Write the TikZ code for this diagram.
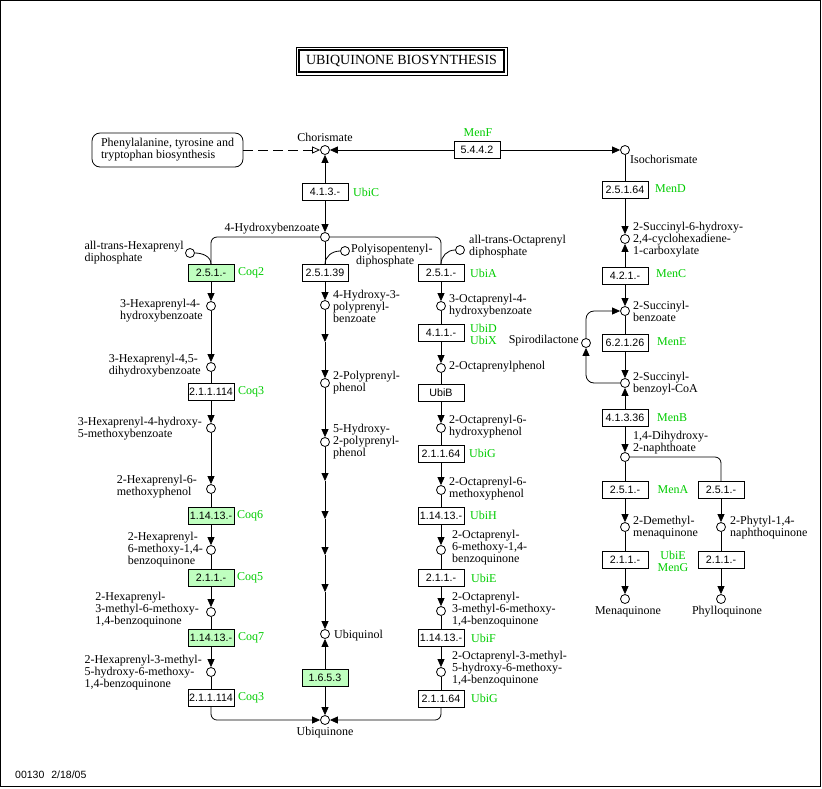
\documentclass[tikz,border=0pt]{standalone}
\usepackage{fontspec}
\setmainfont{Liberation Serif}
\setsansfont{Liberation Sans}
\usetikzlibrary{arrows.meta}
\definecolor{kgreen}{RGB}{191,255,191}
\definecolor{ggreen}{RGB}{0,204,0}
\begin{document}
\begin{tikzpicture}[x=1pt,y=-1pt,
 met/.style={circle,draw,fill=white,inner sep=0pt,minimum size=9pt,line width=0.8pt},
 ecbox/.style={draw,fill=white,font=\sffamily\fontsize{10.7}{12}\selectfont,minimum width=46pt,minimum height=17pt,inner sep=0pt,line width=0.8pt},
 ecg/.style={ecbox,fill=kgreen},
 gene/.style={text=ggreen,font=\fontsize{12}{12}\selectfont,inner sep=0pt,align=left},
 lbl/.style={font=\fontsize{12}{12}\selectfont,inner sep=0pt,align=left},
 rx/.style={line width=0.8pt},
 arr/.style={rx,-{Triangle[length=8pt,width=7pt]}},
]
\useasboundingbox (0,0) rectangle (822,788);
\draw[line width=1pt] (0.5,0.5) rectangle (820.5,786.5);
% title
\draw[line width=1pt] (296,47) rectangle (507,75);
\draw[line width=2pt] (299,50) rectangle (504,72);
\node[font=\fontsize{14}{14}\selectfont] (title) at (401.5,61) {UBIQUINONE BIOSYNTHESIS};
% top
\node[met] (chor) at (325,150) {};
\node[lbl] (chorL) at (325,137) {Chorismate};
\node[draw,rx,rounded corners=8pt,lbl,inner xsep=9pt,minimum height=34pt] (phe) at (167.5,150) {Phenylalanine, tyrosine and\\tryptophan biosynthesis};
\node[met] (iso) at (625,150) {};
\node[lbl,anchor=west] (isoL) at (630,159) {Isochorismate};
\node[ecbox] (e5442) at (477,150) {5.4.4.2};
\node[gene] (menF) at (478,133) {MenF};
\draw[rx,dash pattern=on 10pt off 5pt,-{Triangle[open,length=8pt,width=7pt]}] (phe.east) -- (chor.west);
\draw[arr] (e5442) -- (chor);
\draw[arr] (e5442) -- (iso);
\node[ecbox] (e413) at (325,192) {4.1.3.-};
\node[gene,anchor=west] (ubiC) at (353,192) {UbiC};
\node[met] (hb) at (325,237) {};
\node[lbl,anchor=east] (hbL) at (320,229) {4-Hydroxybenzoate};
\draw[arr] (e413) -- (chor);
\draw[arr] (e413) -- (hb);
% left column
\node[met] (hexpp) at (190,253) {};
\node[lbl,anchor=east] (hexppL) at (184,253) {all-trans-Hexaprenyl\\diphosphate};
\node[ecg] (coq2) at (211,273) {2.5.1.-};
\node[gene,anchor=west] (coq2L) at (238,273) {Coq2};
\draw[rx,rounded corners=6pt] (hb.west) -| (coq2.north);
\draw[rx] (hexpp.east) to[out=0,in=90] (coq2.north);
\node[met] (h1) at (211,306) {};
\node[lbl,anchor=east] (h1L) at (203,311) {3-Hexaprenyl-4-\\hydroxybenzoate};
\draw[arr] (coq2) -- (h1);
\node[met] (h2) at (211,367) {};
\node[lbl,anchor=east] (h2L) at (201,366) {3-Hexaprenyl-4,5-\\dihydroxybenzoate};
\draw[arr] (h1) -- (h2);
\node[ecbox] (coq3a) at (211,392) {2.1.1.114};
\node[gene,anchor=west] (coq3aL) at (238,392) {Coq3};
\draw[rx] (h2) -- (coq3a);
\node[met] (h3) at (211,428) {};
\node[lbl,anchor=east] (h3L) at (202,428.5) {3-Hexaprenyl-4-hydroxy-\\5-methoxybenzoate};
\draw[arr] (coq3a) -- (h3);
\node[met] (h4) at (211,489) {};
\node[lbl,anchor=east] (h4L) at (197,487) {2-Hexaprenyl-6-\\methoxyphenol};
\draw[arr] (h3) -- (h4);
\node[ecg] (coq6) at (211,516) {1.14.13.-};
\node[gene,anchor=west] (coq6L) at (237,516) {Coq6};
\draw[rx] (h4) -- (coq6);
\node[met] (h5) at (211,550) {};
\node[lbl,anchor=east] (h5L) at (203,549.5) {2-Hexaprenyl-\\6-methoxy-1,4-\\benzoquinone};
\draw[arr] (coq6) -- (h5);
\node[ecg] (coq5) at (211,578) {2.1.1.-};
\node[gene,anchor=west] (coq5L) at (237,578) {Coq5};
\draw[rx] (h5) -- (coq5);
\node[met] (h6) at (211,612) {};
\node[lbl,anchor=east] (h6L) at (199,609.5) {2-Hexaprenyl-\\3-methyl-6-methoxy-\\1,4-benzoquinone};
\draw[arr] (coq5) -- (h6);
\node[ecg] (coq7) at (211,638) {1.14.13.-};
\node[gene,anchor=west] (coq7L) at (238,638) {Coq7};
\draw[rx] (h6) -- (coq7);
\node[met] (h7) at (211,672) {};
\node[lbl,anchor=east] (h7L) at (202,673) {2-Hexaprenyl-3-methyl-\\5-hydroxy-6-methoxy-\\1,4-benzoquinone};
\draw[arr] (coq7) -- (h7);
\node[ecbox] (coq3b) at (211,698) {2.1.1.114};
\node[gene,anchor=west] (coq3bL) at (238,698) {Coq3};
\draw[rx] (h7) -- (coq3b);
\node[met] (uq) at (325,720) {};
\node[lbl] (uqL) at (325,733) {Ubiquinone};
\draw[arr,rounded corners=6pt] (coq3b.south) |- (uq.west);
% center column
\node[met] (polypp) at (345,251) {};
\node[lbl,anchor=west] (polyppL) at (351,256) {Polyisopentenyl-\\\hspace*{5pt}diphosphate};
\node[ecbox] (e2539) at (325,273) {2.5.1.39};
\draw[rx] (hb) -- (e2539);
\draw[rx] (polypp.west) to[out=180,in=90] (e2539.north);
\node[met] (c1) at (325,305) {};
\node[lbl,anchor=west] (c1L) at (333,306) {4-Hydroxy-3-\\polyprenyl-\\benzoate};
\draw[arr] (e2539) -- (c1);
\coordinate (m1) at (325,342);
\draw[arr] (c1) -- (m1);
\node[met] (c2) at (325,383) {};
\node[lbl,anchor=west] (c2L) at (333,383) {2-Polyprenyl-\\phenol};
\draw[arr] (m1) -- (c2);
\node[met] (c3) at (325,442) {};
\node[lbl,anchor=west] (c3L) at (333,442) {5-Hydroxy-\\2-polyprenyl-\\phenol};
\draw[arr] (c2) -- (c3);
\coordinate (m2) at (325,481);
\coordinate (m3) at (325,519);
\coordinate (m4) at (325,555);
\coordinate (m5) at (325,592);
\draw[arr] (c3) -- (m2);
\draw[arr] (m2) -- (m3);
\draw[arr] (m3) -- (m4);
\draw[arr] (m4) -- (m5);
\node[met] (uqol) at (325,634) {};
\node[lbl,anchor=west] (uqolL) at (334,636) {Ubiquinol};
\draw[arr] (m5) -- (uqol);
\node[ecg] (e1653) at (325,678) {1.6.5.3};
\draw[arr] (e1653) -- (uqol);
\draw[arr] (e1653) -- (uq);
% right column
\node[met] (octpp) at (460,250) {};
\node[lbl,anchor=west] (octppL) at (469,247) {all-trans-Octaprenyl\\diphosphate};
\node[ecbox] (ubiA) at (441,273) {2.5.1.-};
\node[gene,anchor=west] (ubiAL) at (470,273) {UbiA};
\draw[rx,rounded corners=6pt] (hb.east) -| (ubiA.north);
\draw[rx] (octpp.west) to[out=180,in=90] (ubiA.north);
\node[met] (o1) at (441,306) {};
\node[lbl,anchor=west] (o1L) at (449,305.5) {3-Octaprenyl-4-\\hydroxybenzoate};
\draw[arr] (ubiA) -- (o1);
\node[ecbox] (ubiD) at (441,333) {4.1.1.-};
\node[gene,anchor=west] (ubiDL) at (470,334) {UbiD\\UbiX};
\draw[rx] (o1) -- (ubiD);
\node[met] (o2) at (441,368) {};
\node[lbl,anchor=west] (o2L) at (449,367) {2-Octaprenylphenol};
\draw[arr] (ubiD) -- (o2);
\node[ecbox] (ubiB) at (441,393) {UbiB};
\draw[rx] (o2) -- (ubiB);
\node[met] (o3) at (441,428) {};
\node[lbl,anchor=west] (o3L) at (449,427) {2-Octaprenyl-6-\\hydroxyphenol};
\draw[arr] (ubiB) -- (o3);
\node[ecbox] (ubiG1) at (441,454) {2.1.1.64};
\node[gene,anchor=west] (ubiG1L) at (469,453) {UbiG};
\draw[rx] (o3) -- (ubiG1);
\node[met] (o4) at (441,490) {};
\node[lbl,anchor=west] (o4L) at (449,489) {2-Octaprenyl-6-\\methoxyphenol};
\draw[arr] (ubiG1) -- (o4);
\node[ecbox] (ubiH) at (441,516) {1.14.13.-};
\node[gene,anchor=west] (ubiHL) at (470,515) {UbiH};
\draw[rx] (o4) -- (ubiH);
\node[met] (o5) at (441,550) {};
\node[lbl,anchor=west] (o5L) at (452,548) {2-Octaprenyl-\\6-methoxy-1,4-\\benzoquinone};
\draw[arr] (ubiH) -- (o5);
\node[ecbox] (ubiE) at (441,578) {2.1.1.-};
\node[gene,anchor=west] (ubiEL) at (471,578) {UbiE};
\draw[rx] (o5) -- (ubiE);
\node[met] (o6) at (441,611) {};
\node[lbl,anchor=west] (o6L) at (452,609.5) {2-Octaprenyl-\\3-methyl-6-methoxy-\\1,4-benzoquinone};
\draw[arr] (ubiE) -- (o6);
\node[ecbox] (ubiF) at (441,637.5) {1.14.13.-};
\node[gene,anchor=west] (ubiFL) at (471,638) {UbiF};
\draw[rx] (o6) -- (ubiF);
\node[met] (o7) at (441,672) {};
\node[lbl,anchor=west] (o7L) at (452,669) {2-Octaprenyl-3-methyl-\\5-hydroxy-6-methoxy-\\1,4-benzoquinone};
\draw[arr] (ubiF) -- (o7);
\node[ecbox] (ubiG2) at (441,699) {2.1.1.64};
\node[gene,anchor=west] (ubiG2L) at (471,698) {UbiG};
\draw[rx] (o7) -- (ubiG2);
\draw[arr,rounded corners=6pt] (ubiG2.south) |- (uq.east);
% menaquinone branch
\node[ecbox] (menD) at (625,190) {2.5.1.64};
\node[gene,anchor=west] (menDL) at (655,189) {MenD};
\draw[rx] (iso) -- (menD);
\node[met] (s1) at (625,239) {};
\node[lbl,anchor=west] (s1L) at (633,240) {2-Succinyl-6-hydroxy-\\2,4-cyclohexadiene-\\1-carboxylate};
\draw[arr] (menD) -- (s1);
\node[ecbox] (menC) at (625,276) {4.2.1.-};
\node[gene,anchor=west] (menCL) at (656,274) {MenC};
\draw[arr] (menC) -- (s1);
\node[met] (s2) at (625,311) {};
\node[lbl,anchor=west] (s2L) at (633,311) {2-Succinyl-\\benzoate};
\draw[arr] (menC) -- (s2);
\node[ecbox] (menE) at (625,343) {6.2.1.26};
\node[gene,anchor=west] (menEL) at (657,342) {MenE};
\draw[rx] (s2) -- (menE);
\node[met] (s3) at (625,383) {};
\node[lbl,anchor=west] (s3L) at (633,384) {2-Succinyl-\\benzoyl-CoA};
\draw[arr] (menE) -- (s3);
\node[met] (spiro) at (586,343) {};
\node[lbl,anchor=east] (spiroL) at (579,341) {Spirodilactone};
\draw[arr,rounded corners=8pt] (s3.west) -| (spiro.south);
\draw[arr,rounded corners=8pt] (spiro.north) |- (s2.west);
\node[ecbox] (menB) at (625,418) {4.1.3.36};
\node[gene,anchor=west] (menBL) at (657,418) {MenB};
\draw[arr] (menB) -- (s3);
\node[met] (s4) at (625,457) {};
\node[lbl,anchor=west] (s4L) at (633,443) {1,4-Dihydroxy-\\2-naphthoate};
\draw[arr] (menB) -- (s4);
\node[ecbox] (menA) at (625,490) {2.5.1.-};
\node[gene] (menAL) at (673,490) {MenA};
\node[ecbox] (e251r) at (721,490) {2.5.1.-};
\draw[rx] (s4) -- (menA);
\draw[rx,rounded corners=6pt] (s4.east) -| (e251r.north);
\node[met] (s5) at (625,527) {};
\node[lbl,anchor=west] (s5L) at (633,527.5) {2-Demethyl-\\menaquinone};
\node[met] (s6) at (721,527) {};
\node[lbl,anchor=west] (s6L) at (730,527.5) {2-Phytyl-1,4-\\naphthoquinone};
\draw[arr] (menA) -- (s5);
\draw[arr] (e251r) -- (s6);
\node[ecbox] (menG) at (625,560) {2.1.1.-};
\node[gene,align=center] (menGL) at (673,561.5) {UbiE\\MenG};
\node[ecbox] (e211r) at (721,560) {2.1.1.-};
\draw[rx] (s5) -- (menG);
\draw[rx] (s6) -- (e211r);
\node[met] (mk) at (625,599) {};
\node[lbl] (mkL) at (628,612) {Menaquinone};
\node[met] (pk) at (721,599) {};
\node[lbl] (pkL) at (727,612) {Phylloquinone};
\draw[arr] (menG) -- (mk);
\draw[arr] (e211r) -- (pk);
% footer
\node[font=\sffamily\fontsize{10.5}{12}\selectfont,anchor=west,inner sep=0pt] (foot) at (15,775) {00130\hspace{7pt}2/18/05};
\end{tikzpicture}
\end{document}
